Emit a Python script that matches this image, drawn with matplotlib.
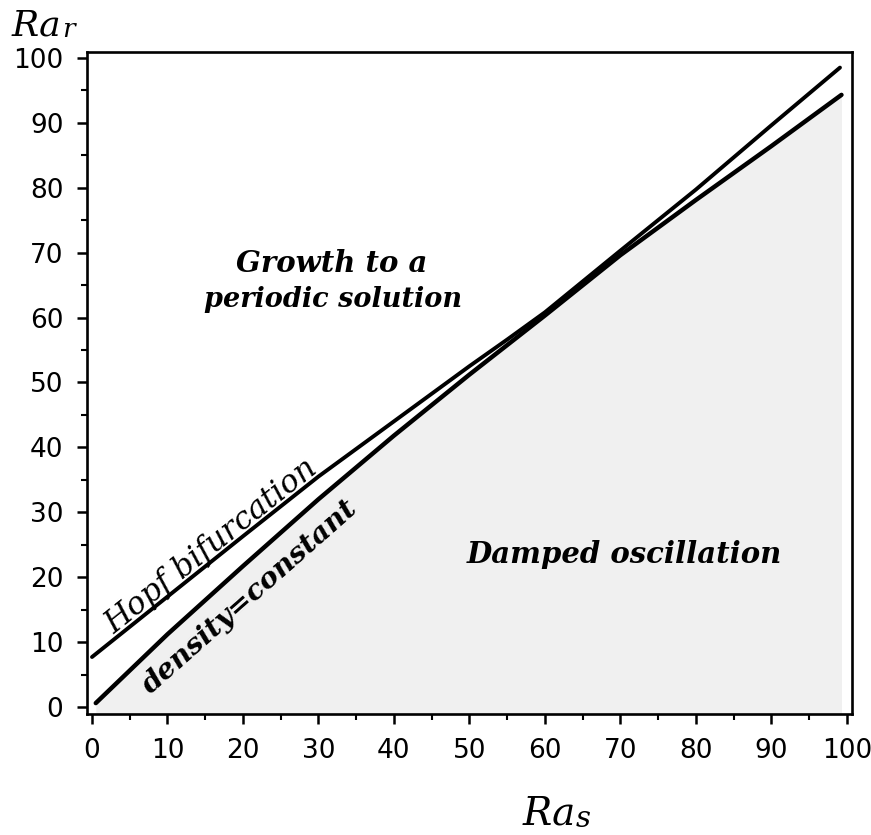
import matplotlib
matplotlib.use("Agg")
import matplotlib.pyplot as plt
from matplotlib.ticker import MultipleLocator

# ---- data ----
ras_hopf = [0, 10, 20, 30, 40, 50, 55, 60, 70, 80, 90, 99.1]
rar_hopf = [7.7, 17.0, 26.3, 35.5, 44.0, 52.5, 56.6, 60.8, 70.3, 79.7, 89.6, 98.5]

ras_dens = [0.5, 10, 20, 30, 40, 50, 60, 70, 80, 90, 99.3]
rar_dens = [0.6, 11.2, 21.7, 32.0, 41.8, 51.2, 60.3, 69.6, 78.1, 86.4, 94.3]

xticks = [0, 10, 20, 30, 40, 50, 60, 70, 80, 90, 100]
yticks = [0, 10, 20, 30, 40, 50, 60, 70, 80, 90, 100]

fig = plt.figure(figsize=(8.71, 8.35), dpi=100)
ax = fig.add_axes([0.0999, 0.1449, 0.878, 0.7928])

# light shading of the damped-oscillation region
ax.fill_between(ras_dens, rar_dens, -1.1, color="#f0f0f0", lw=0, zorder=0)

ax.plot(ras_hopf, rar_hopf, color="black", lw=2.8, solid_capstyle="round", zorder=3)
ax.plot(ras_dens, rar_dens, color="black", lw=3.2, solid_capstyle="round", zorder=3)

ax.set_xlim(-0.66, 100.66)
ax.set_ylim(-1.08, 100.9)
ax.set_xticks(xticks)
ax.set_yticks(yticks)
ax.xaxis.set_minor_locator(MultipleLocator(5))
ax.yaxis.set_minor_locator(MultipleLocator(5))
ax.tick_params(which="major", direction="out", length=7, width=1.8, labelsize=19, pad=10)
ax.tick_params(which="minor", direction="out", length=4, width=1.5)
for lab in ax.get_xticklabels() + ax.get_yticklabels():
    lab.set_fontfamily("DejaVu Sans")
for sp in ax.spines.values():
    sp.set_linewidth(1.9)

# region labels
ax.text(31.8, 68.3, "Growth to a", family="DejaVu Serif", style="italic",
        weight="bold", fontsize=21, ha="center", va="center")
ax.text(32.0, 62.8, "periodic solution", family="DejaVu Serif", style="italic",
        weight="bold", fontsize=19.5, ha="center", va="center")
ax.text(70.5, 23.5, "Damped oscillation", family="DejaVu Serif", style="italic",
        weight="heavy", fontsize=21, ha="center", va="center")
ax.text(15.8, 24.8, "Hopf bifurcation", family="DejaVu Serif", style="italic",
        fontsize=22.5, ha="center", va="center", rotation=38.5, rotation_mode="anchor")
ax.text(20.9, 17.0, "density=constant", family="DejaVu Serif", style="italic",
        weight="heavy", fontsize=20.5, ha="center", va="center", rotation=41.5,
        rotation_mode="anchor")

# axis labels  (Ra with small r / s)
t1 = fig.text(0.0138, 0.958, "Ra", family="DejaVu Serif", style="italic",
              fontsize=26, ha="left", va="baseline")
ax.annotate("r", xy=(1, 0), xycoords=t1, xytext=(0, 0), textcoords="offset points",
            family="DejaVu Serif", style="italic", fontsize=19, ha="left", va="bottom",
            annotation_clip=False)
t2 = fig.text(0.600, 0.012, "Ra", family="DejaVu Serif", style="italic",
              fontsize=28, ha="left", va="baseline")
ax.annotate("s", xy=(1, 0), xycoords=t2, xytext=(0, 0), textcoords="offset points",
            family="DejaVu Serif", style="italic", fontsize=21, ha="left", va="bottom",
            annotation_clip=False)

fig.savefig("out.png", dpi=100)
